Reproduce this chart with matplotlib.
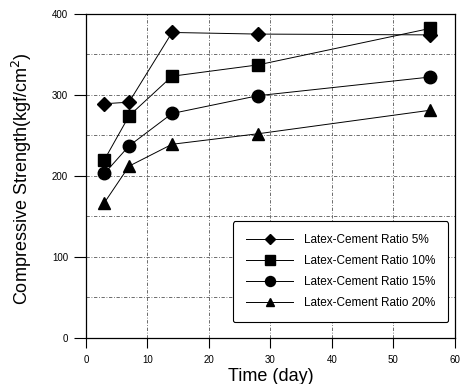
import matplotlib.pyplot as plt

plt.rcParams['font.family'] = ['Liberation Sans', 'DejaVu Sans']

# Curing time (days) and compressive strength (kgf/cm^2)
days = [3, 7, 14, 28, 56]
ratio_5 = [289, 291, 377, 375, 374]
ratio_10 = [220, 274, 323, 337, 382]
ratio_15 = [203, 237, 277, 299, 322]
ratio_20 = [167, 212, 239, 252, 281]

labels = ["Latex-Cement Ratio 5%", "Latex-Cement Ratio 10%",
          "Latex-Cement Ratio 15%", "Latex-Cement Ratio 20%"]
markers = ["D", "s", "o", "^"]
sizes = [7, 9, 9, 8]

fig = plt.figure(figsize=(4.65, 3.84), dpi=100)
ax = fig.add_axes([0.185, 0.12, 0.793, 0.844])

for vals, lab, mk, ms in zip([ratio_5, ratio_10, ratio_15, ratio_20], labels, markers, sizes):
    ax.plot(days, vals, color="black", lw=0.7, marker=mk, ms=ms,
            mfc="black", mec="black", label=lab)

ax.set_xlim(0, 60)
ax.set_ylim(0, 400)
ax.set_xticks(range(0, 61, 10))
ax.set_yticks(range(0, 401, 100))
ax.set_yticks(range(50, 400, 100), minor=True)
ax.grid(True, which="both", ls=(0, (4, 2, 1, 2)), lw=0.6, color="#555555")
ax.tick_params(axis="x", which="major", direction="out", length=7.2, width=0.8,
               labelsize=7, pad=5)
ax.tick_params(axis="y", which="major", direction="out", length=9, width=0.8,
               labelsize=7, pad=4)
ax.tick_params(which="minor", length=0)
for s in ax.spines.values():
    s.set_linewidth(0.9)

ax.set_xlabel("Time (day)", fontsize=13)
ax.xaxis.set_label_coords(0.5, -0.093)
ax.set_ylabel("Compressive Strength(kgf/cm$^2$)", fontsize=13)
ax.yaxis.set_label_coords(-0.142, 0.49)

leg = ax.legend(loc="lower right", bbox_to_anchor=(0.998, 0.031), fontsize=8.5,
                frameon=True, fancybox=True, edgecolor="black", framealpha=1,
                borderpad=1.1, labelspacing=0.75, handlelength=4.0,
                handletextpad=0.9, markerscale=0.8)
leg.get_frame().set_linewidth(0.8)

fig.savefig("out.png", dpi=100)
